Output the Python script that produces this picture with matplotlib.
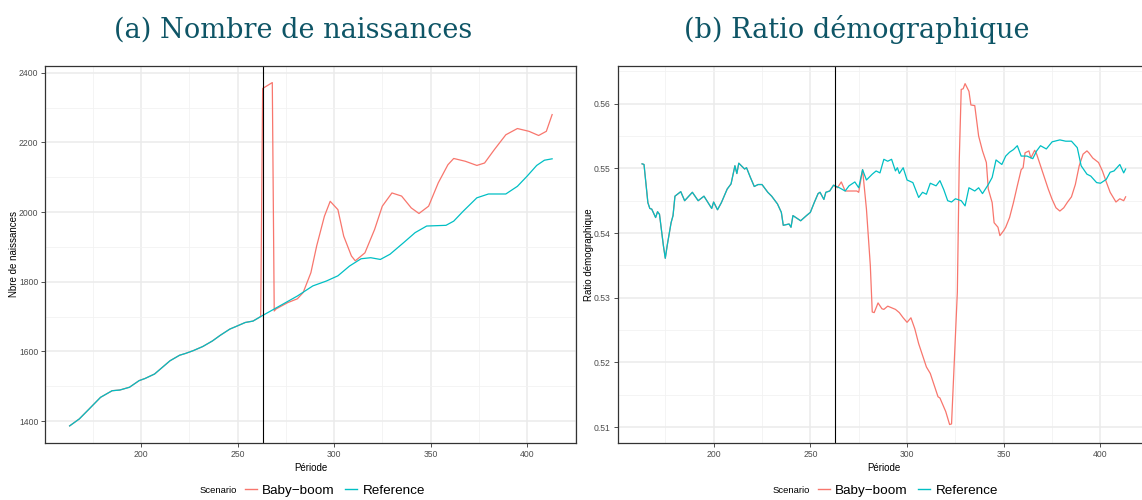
import matplotlib
matplotlib.use("Agg")
import matplotlib.pyplot as plt
from matplotlib.lines import Line2D
from matplotlib.ticker import MultipleLocator, FormatStrFormatter

plt.rcParams["font.family"] = ["Liberation Sans", "DejaVu Sans"]

RED = "#F8766D"
CYAN = "#00BFC4"

# (a) births, Reference scenario
births_ref_x = [163, 168, 173, 179, 185, 189, 194, 199, 202, 207, 211, 215, 220, 223,
                227, 232, 237, 241, 246, 249, 254, 258, 262, 272, 281, 289, 296, 302,
                308, 314, 319, 324, 329, 336, 342, 348, 358, 362, 367, 374, 380, 389,
                395, 400, 405, 409, 413]
births_ref_y = [1386, 1406, 1434, 1468, 1487, 1489, 1497, 1516, 1522, 1535, 1554, 1573,
                1589, 1594, 1602, 1614, 1630, 1646, 1664, 1671, 1683, 1687, 1700, 1731,
                1759, 1788, 1802, 1817, 1845, 1866, 1869, 1864, 1879, 1912, 1941, 1960,
                1962, 1974, 2003, 2041, 2052, 2052, 2074, 2103, 2134, 2149, 2153]

# (a) births, Baby-boom scenario after the shock (before: same as Reference)
births_bb_x = [263, 268, 269, 270, 276, 281, 284, 288, 291, 295, 298, 302, 305, 309,
               311, 316, 321, 325, 330, 335, 340, 344, 349, 354, 359, 362, 368, 374,
               378, 383, 389, 395, 401, 406, 410, 413]
births_bb_y = [2355, 2372, 1716, 1722, 1740, 1751, 1769, 1826, 1903, 1988, 2031, 2007,
               1931, 1874, 1860, 1883, 1950, 2017, 2055, 2046, 2012, 1996, 2017, 2084,
               2136, 2154, 2146, 2134, 2141, 2179, 2222, 2240, 2232, 2220, 2232, 2280]

# (b) demographic ratio, Reference scenario
ratio_ref_x = [163, 164, 166, 167, 168, 170, 171, 172, 174, 175, 176, 178, 179, 180,
               183, 185, 189, 192, 195, 199, 200, 202, 204, 207, 209, 211, 212, 213,
               216, 217, 219, 221, 223, 225, 228, 230, 233, 235, 236, 239, 240, 241,
               245, 248, 250, 252, 254, 255, 257, 258, 260, 262, 265, 268, 270, 273,
               275, 277, 279, 282, 284, 286, 288, 290, 292, 294, 295, 296, 298, 300,
               303, 306, 308, 310, 312, 315, 317, 319, 321, 323, 325, 328, 330, 332,
               335, 337, 339, 342, 344, 346, 349, 351, 353, 355, 357, 359, 362, 365,
               367, 369, 372, 375, 379, 382, 385, 388, 390, 393, 395, 398, 400, 403,
               405, 407, 410, 412, 413]
ratio_ref_y = [0.5507, 0.5506, 0.5447, 0.5438, 0.5437, 0.5424, 0.5433, 0.5429, 0.5381,
               0.5361, 0.5381, 0.5416, 0.5427, 0.5457, 0.5464, 0.5450, 0.5463, 0.5450,
               0.5457, 0.5438, 0.5448, 0.5436, 0.5447, 0.5468, 0.5476, 0.5504, 0.5492,
               0.5508, 0.5499, 0.5501, 0.5486, 0.5472, 0.5475, 0.5475, 0.5463, 0.5457,
               0.5445, 0.5432, 0.5412, 0.5414, 0.5409, 0.5427, 0.5419, 0.5427, 0.5432,
               0.5447, 0.5461, 0.5463, 0.5452, 0.5463, 0.5465, 0.5474, 0.5470, 0.5465,
               0.5473, 0.5479, 0.5470, 0.5498, 0.5482, 0.5491, 0.5496, 0.5493, 0.5514,
               0.5511, 0.5514, 0.5496, 0.5501, 0.5492, 0.5501, 0.5482, 0.5478, 0.5455,
               0.5463, 0.5460, 0.5477, 0.5473, 0.5481, 0.5467, 0.5450, 0.5448, 0.5453,
               0.5450, 0.5442, 0.5470, 0.5465, 0.5470, 0.5461, 0.5475, 0.5486, 0.5513,
               0.5506, 0.5519, 0.5525, 0.5529, 0.5535, 0.5519, 0.5519, 0.5515, 0.5527,
               0.5535, 0.5530, 0.5541, 0.5544, 0.5542, 0.5542, 0.5532, 0.5504, 0.5491,
               0.5488, 0.5478, 0.5477, 0.5483, 0.5494, 0.5496, 0.5506, 0.5493, 0.5499]

# (b) demographic ratio, Baby-boom scenario after the shock
ratio_bb_x = [264, 266, 268, 274, 275, 277, 279, 281, 282, 283, 285, 287, 288, 290,
              294, 296, 298, 300, 302, 304, 306, 308, 310, 312, 314, 316, 317, 320,
              321, 322, 323, 326, 327, 328, 329, 330, 332, 333, 335, 337, 339, 341,
              342, 344, 345, 347, 348, 350, 351, 353, 355, 357, 359, 360, 361, 363,
              364, 366, 367, 369, 371, 373, 375, 377, 379, 381, 383, 385, 387, 389,
              391, 393, 394, 396, 399, 401, 403, 405, 408, 410, 412, 413]
ratio_bb_y = [0.5470, 0.5479, 0.5465, 0.5465, 0.5463, 0.5498, 0.5437, 0.5350, 0.5278,
              0.5277, 0.5292, 0.5283, 0.5282, 0.5287, 0.5282, 0.5277, 0.5269, 0.5262,
              0.5269, 0.5252, 0.5229, 0.5211, 0.5193, 0.5183, 0.5165, 0.5147, 0.5145,
              0.5124, 0.5114, 0.5104, 0.5105, 0.5309, 0.5514, 0.5622, 0.5623, 0.5631,
              0.5619, 0.5598, 0.5597, 0.5550, 0.5527, 0.5509, 0.5468, 0.5447, 0.5416,
              0.5409, 0.5396, 0.5404, 0.5409, 0.5424, 0.5447, 0.5473, 0.5498, 0.5501,
              0.5524, 0.5527, 0.5516, 0.5528, 0.5522, 0.5504, 0.5486, 0.5468, 0.5452,
              0.5439, 0.5434, 0.5439, 0.5448, 0.5456, 0.5475, 0.5504, 0.5522, 0.5527,
              0.5524, 0.5516, 0.5509, 0.5496, 0.5479, 0.5463, 0.5448, 0.5453, 0.5450,
              0.5456]

shock = 263
scenarios = ["Baby\u2212boom", "Reference"]


def style_axes(ax, xlim, ylim, ymaj, ymin, ylabel):
    ax.set_xlim(*xlim)
    ax.set_ylim(*ylim)
    ax.xaxis.set_major_locator(MultipleLocator(50))
    ax.xaxis.set_minor_locator(MultipleLocator(25))
    ax.yaxis.set_major_locator(MultipleLocator(ymaj))
    ax.yaxis.set_minor_locator(MultipleLocator(ymin))
    ax.grid(which="major", color="#EBEBEB", lw=1.1)
    ax.grid(which="minor", color="#F2F2F2", lw=0.6)
    ax.set_axisbelow(True)
    ax.tick_params(which="major", length=3, width=0.6, color="#333333",
                   labelsize=6.2, labelcolor="#4D4D4D", pad=2)
    ax.tick_params(which="minor", length=0)
    for s in ax.spines.values():
        s.set_color("#333333")
        s.set_linewidth(0.9)
    ax.set_xlabel("Période", fontsize=7, labelpad=3)
    ax.set_ylabel(ylabel, fontsize=7, labelpad=0)


def add_legend(ax):
    handles = [Line2D([], [], color=RED, lw=1), Line2D([], [], color=CYAN, lw=1)]
    leg = ax.legend(handles, scenarios, loc="center", bbox_to_anchor=(0.545, -0.125),
                    ncol=2, frameon=False, fontsize=9.7, handlelength=0.9,
                    handletextpad=0.4, columnspacing=0.75, borderaxespad=0,
                    borderpad=0)
    ax.annotate("Scenario", xy=(0, 0.5), xycoords=leg, xytext=(-5.5, 0),
                textcoords="offset points", ha="right", va="center", fontsize=6.8)


fig = plt.figure(figsize=(11.42, 5), dpi=100)
ax1 = fig.add_axes([0.0397, 0.1134, 0.4649, 0.7556])
ax2 = fig.add_axes([0.5409, 0.1134, 0.4661, 0.7556])

# panel (a)
n = births_ref_x.index(262) + 1
ax1.plot(births_ref_x[:n] + births_bb_x, births_ref_y[:n] + births_bb_y, color=RED, lw=0.9)
ax1.plot(births_ref_x, births_ref_y, color=CYAN, lw=0.9)
ax1.axvline(shock, color="black", lw=0.8)
style_axes(ax1, (150.4, 425.5), (1336, 2421), 200, 100, "Nbre de naissances")
add_legend(ax1)

# panel (b)
m = ratio_ref_x.index(262) + 1
ax2.plot(ratio_ref_x[:m] + ratio_bb_x, ratio_ref_y[:m] + ratio_bb_y, color=RED, lw=0.9)
ax2.plot(ratio_ref_x, ratio_ref_y, color=CYAN, lw=0.9)
ax2.axvline(shock, color="black", lw=0.8)
style_axes(ax2, (150.4, 425.6), (0.5075, 0.5659), 0.01, 0.005, "Ratio démographique")
ax2.yaxis.set_major_formatter(FormatStrFormatter("%.2f"))
add_legend(ax2)

title_kw = dict(fontsize=19.5, color="#0E5566", ha="center", va="center",
                family=["DejaVu Serif"])
fig.text(293 / 1142, 1 - 30 / 500, "(a) Nombre de naissances", **title_kw)
fig.text(857 / 1142, 1 - 30 / 500, "(b) Ratio démographique", **title_kw)

fig.savefig("out.png", dpi=100)
plt.close(fig)
